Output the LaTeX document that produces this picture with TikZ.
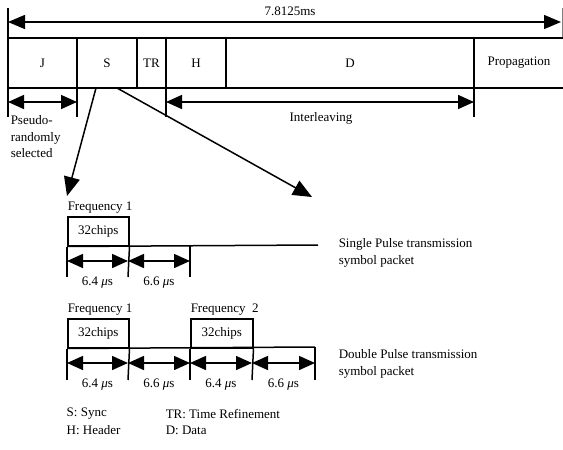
\documentclass[tikz,border=0pt]{standalone}
\usepackage{fontspec}
\setmainfont{Liberation Serif}
\usetikzlibrary{arrows.meta}
\begin{document}
\begin{tikzpicture}[x=1pt,y=-1pt,line width=1.5pt,
  font=\fontsize{13}{16.5}\selectfont,
  bigdim/.style={{Triangle[length=17pt,width=14pt]}-{Triangle[length=17pt,width=14pt]}},
  dim/.style={{Triangle[length=16pt,width=14pt]}-{Triangle[length=16pt,width=14pt]}},
  pointer/.style={-{Triangle[length=19pt,width=16pt]}},
  lbl/.style={inner sep=0pt},
  chip/.style={draw,minimum width=61pt,minimum height=29pt,anchor=north west,inner sep=0pt},
  mus/.style={inner sep=0pt}]
\useasboundingbox (0,0) rectangle (563,450);
% ---------- top dimension ----------
\coordinate (Lt) at (8,8);
\coordinate (Lb) at (8,117);
\draw (Lt) -- (Lb);
\coordinate (Rt) at (562,8);
\coordinate (Rb) at (562,38);
\draw[line width=0.5pt,gray] (Rt) -- (Rb);
\coordinate (A1) at (8,22);
\coordinate (A2) at (561,22);
\draw[bigdim] (A1) -- (A2);
\node[lbl] (total) at (290,11) {7.8125ms};
% ---------- frame row ----------
\coordinate (rowTL) at (8,38);
\coordinate (rowTR) at (563,38);
\coordinate (rowBL) at (8,88);
\coordinate (rowBR) at (563,88);
\draw (rowTL) -- (rowTR);
\draw (rowBL) -- (rowBR);
\coordinate (dJSt) at (77,38);  \coordinate (dJSb) at (77,117);
\coordinate (dSTt) at (137,38); \coordinate (dSTb) at (137,88);
\coordinate (dTHt) at (166,38); \coordinate (dTHb) at (166,117);
\coordinate (dHDt) at (226,38); \coordinate (dHDb) at (226,88);
\coordinate (dDPt) at (474,38); \coordinate (dDPb) at (474,117);
\draw (dJSt) -- (dJSb);
\draw (dSTt) -- (dSTb);
\draw (dTHt) -- (dTHb);
\draw (dHDt) -- (dHDb);
\draw (dDPt) -- (dDPb);
\node[lbl] (J) at (42.5,63) {J};
\node[lbl] (S) at (107,63) {S};
\node[lbl] (TR) at (151.5,63) {TR};
\node[lbl] (H) at (196,63) {H};
\node[lbl] (D) at (350,63) {D};
\node[lbl] (P) at (519,63) {Propagation};
% ---------- dimensions under row ----------
\coordinate (pa1) at (8,102);
\coordinate (pa2) at (77,102);
\draw[dim] (pa1) -- (pa2);
\node[anchor=north west,align=left,inner sep=0pt] (pseudo) at (10,115) {Pseudo-\\randomly\\selected};
\coordinate (ia1) at (166,102);
\coordinate (ia2) at (474,102);
\draw[dim] (ia1) -- (ia2);
\node[lbl] (inter) at (321,118) {Interleaving};
% ---------- pointers from S ----------
\coordinate (s1) at (96,88);
\coordinate (tip1) at (67,196);
\draw[pointer] (s1) -- (tip1);
\coordinate (s2) at (117,88);
\coordinate (tip2) at (312,197);
\draw[pointer] (s2) -- (tip2);
% ---------- single pulse ----------
\node[anchor=west,inner sep=0pt] (sf1) at (67,208) {Frequency 1};
\node[chip] (sc1) at (67,216) {32chips};
\coordinate (sbase) at (318,245);
\draw (sc1.south west) -- (sbase);
\coordinate (sv1) at (67,277);
\coordinate (sv2) at (128,277);
\coordinate (sv3t) at (190,245);
\coordinate (sv3) at (190,277);
\draw (sc1.south west) -- (sv1);
\draw (sc1.south east) -- (sv2);
\draw (sv3t) -- (sv3);
\coordinate (sd1) at (67,261);
\coordinate (sd2) at (128,261);
\coordinate (sd3) at (190,261);
\draw[dim] (sd1) -- (sd2);
\draw[dim] (sd2) -- (sd3);
\node[mus] (sl1) at (97.5,283) {6.4 {\itshape μ}s};
\node[mus] (sl2) at (159,283) {6.6 {\itshape μ}s};
\node[anchor=west,align=left,inner sep=0pt] (single) at (338,253) {Single Pulse transmission\\symbol packet};
% ---------- double pulse ----------
\node[anchor=west,inner sep=0pt] (df1) at (67,310) {Frequency 1};
\node[anchor=west,inner sep=0pt] (df2) at (190,310) {Frequency\ \ 2};
\node[chip] (dc1) at (67,318) {32chips};
\node[chip,minimum width=62pt] (dc2) at (190,318) {32chips};
\coordinate (dbase) at (315,347);
\draw (dc1.south west) -- (dbase);
\coordinate (dv1) at (67,380);
\coordinate (dv2) at (128,380);
\coordinate (dv3) at (190,380);
\coordinate (dv4) at (252,380);
\coordinate (dv5) at (315,380);
\draw (dc1.south west) -- (dv1);
\draw (dc1.south east) -- (dv2);
\draw (dc2.south west) -- (dv3);
\draw (dc2.south east) -- (dv4);
\draw (dbase) -- (dv5);
\coordinate (dd1) at (67,363);
\coordinate (dd2) at (128,363);
\coordinate (dd3) at (190,363);
\coordinate (dd4) at (252,363);
\coordinate (dd5) at (315,363);
\draw[dim] (dd1) -- (dd2);
\draw[dim] (dd2) -- (dd3);
\draw[dim] (dd3) -- (dd4);
\draw[dim] (dd4) -- (dd5);
\node[mus] (dl1) at (97.5,385) {6.4 {\itshape μ}s};
\node[mus] (dl2) at (159,385) {6.6 {\itshape μ}s};
\node[mus] (dl3) at (221,385) {6.4 {\itshape μ}s};
\node[mus] (dl4) at (283.5,385) {6.6 {\itshape μ}s};
\node[anchor=west,align=left,inner sep=0pt] (double) at (338,364) {Double Pulse transmission\\symbol packet};
% ---------- legend ----------
\node[anchor=west,inner sep=0pt] (legS) at (66,414) {S: Sync};
\node[anchor=west,inner sep=0pt] (legH) at (66,430) {H: Header};
\node[anchor=west,inner sep=0pt] (legTR) at (165,414) {TR: Time Refinement};
\node[anchor=west,inner sep=0pt] (legD) at (165,430) {D: Data};
\end{tikzpicture}
\end{document}
